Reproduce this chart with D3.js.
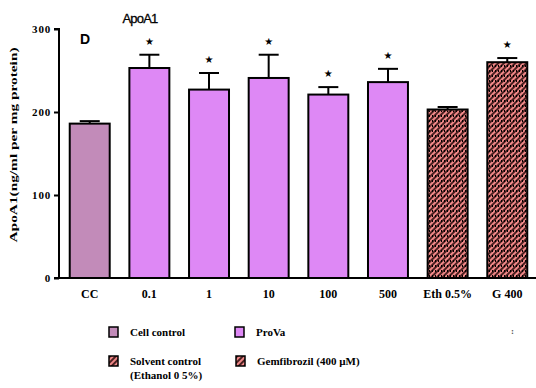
<!DOCTYPE html>
<html>
<head>
<meta charset="utf-8">
<script src="https://cdn.jsdelivr.net/npm/d3@7"></script>
<style>
  body { margin: 0; background: #fff; }
</style>
</head>
<body>
<div id="chart"></div>
<script>
var categories = ["CC", "0.1", "1", "10", "100", "500", "Eth 0.5%", "G 400"];
var values = [186, 253, 227, 241, 221, 236, 203, 260];
var errors = [3, 16, 20, 28, 9, 16, 3, 5];
var groups = ["cell", "prova", "prova", "prova", "prova", "prova", "solvent", "gem"];
var starred = [false, true, true, true, true, true, false, true];
var yTicks = [0, 100, 200, 300];

var width = 536, height = 388;
var margin = {top: 29, right: 0, bottom: 110, left: 59};

var svg = d3.select("#chart")
  .append("svg")
    .attr("width", width)
    .attr("height", height)
    .attr("font-family", "Liberation Serif")
    .attr("font-weight", "bold");

// hatch pattern for the controls
var defs = svg.append("defs");
var pat = defs.append("pattern")
    .attr("id", "hatch")
    .attr("patternUnits", "userSpaceOnUse")
    .attr("width", 4)
    .attr("height", 4)
    .attr("patternTransform", "rotate(45)");
pat.append("rect").attr("width", 4).attr("height", 4).attr("fill", "#f08888");
pat.append("rect").attr("width", 2).attr("height", 4).attr("fill", "#4a2020");

var pat2 = defs.append("pattern")
    .attr("id", "dots")
    .attr("patternUnits", "userSpaceOnUse")
    .attr("width", 3)
    .attr("height", 5);
pat2.append("rect").attr("width", 1).attr("height", 2).attr("fill", "#000");

var fills = {cell: "#c28bb9", prova: "#de88f5", solvent: "url(#hatch)", gem: "url(#hatch)"};

var x = d3.scaleBand()
    .domain(categories)
    .range([margin.left, 538])
    .paddingInner(0.33)
    .paddingOuter(0.18);

var y = d3.scaleLinear()
    .domain([0, 300])
    .range([278, margin.top]);

// error bars (drawn first, bars cover lower half)
var eb = svg.append("g");
categories.forEach(function(c, i) {
  var cx = x(c) + x.bandwidth() / 2;
  eb.append("line")
    .attr("x1", cx).attr("x2", cx)
    .attr("y1", y(values[i])).attr("y2", y(values[i] + errors[i]))
    .attr("stroke", "#000").attr("stroke-width", 2);
  eb.append("line")
    .attr("x1", cx - 10).attr("x2", cx + 10)
    .attr("y1", y(values[i] + errors[i])).attr("y2", y(values[i] + errors[i]))
    .attr("stroke", "#000").attr("stroke-width", 2);
});

svg.append("g").selectAll("rect")
  .data(categories)
  .enter().append("rect")
    .attr("x", function(d) { return x(d); })
    .attr("width", x.bandwidth())
    .attr("y", function(d, i) { return y(values[i]); })
    .attr("height", function(d, i) { return y(0) - y(values[i]); })
    .attr("fill", function(d, i) { return fills[groups[i]]; })
    .attr("stroke", "#000")
    .attr("stroke-width", 2);

// dotted overlay on hatched bars
svg.append("g").selectAll("rect")
  .data(categories.filter(function(d, i) { return groups[i] == "solvent" || groups[i] == "gem"; }))
  .enter().append("rect")
    .attr("x", function(d) { return x(d) + 1; })
    .attr("width", x.bandwidth() - 2)
    .attr("y", function(d) { return y(values[categories.indexOf(d)]) + 1; })
    .attr("height", function(d) { return y(0) - y(values[categories.indexOf(d)]) - 2; })
    .attr("fill", "url(#dots)");

// significance stars
svg.append("g").selectAll("text")
  .data(categories.filter(function(d, i) { return starred[i]; }))
  .enter().append("text")
    .attr("x", function(d) { return x(d) + x.bandwidth() / 2; })
    .attr("y", function(d) { var i = categories.indexOf(d); return y(values[i] + errors[i]) - 10; })
    .attr("text-anchor", "middle")
    .attr("font-family", "DejaVu Sans")
    .attr("font-size", 10)
    .text("\u2605");

// axes
var yAxis = svg.append("g")
    .attr("transform", "translate(" + margin.left + ",0)")
    .call(d3.axisLeft(y).tickValues(yTicks).tickSize(5));
yAxis.select(".domain").attr("stroke-width", 2).attr("d", "M-5," + y(300) + "H0V" + y(0) + "H-5");
yAxis.selectAll(".tick line").attr("stroke-width", 2);
yAxis.selectAll(".tick text").attr("font-size", 11).attr("x", -8)
  .attr("font-family", "Liberation Serif").attr("font-weight", "bold").attr("letter-spacing", 0.8);

var xAxis = svg.append("g")
    .attr("transform", "translate(0," + y(0) + ")")
    .call(d3.axisBottom(x).tickSize(0));
xAxis.select(".domain").attr("stroke-width", 2).attr("d", "M" + margin.left + ",0H536");
xAxis.selectAll(".tick text").attr("font-size", 12).attr("dy", 0).attr("y", 20)
  .attr("font-family", "Liberation Serif").attr("font-weight", "bold");

// y label
svg.append("text")
    .attr("transform", "translate(17,145) rotate(-90)")
    .attr("text-anchor", "middle")
    .attr("font-size", 11)
    .attr("textLength", 195)
    .attr("lengthAdjust", "spacingAndGlyphs")
    .text("ApoA1(ng/ml per mg protein)");

// title and panel letter
svg.append("text")
    .attr("x", 140).attr("y", 23)
    .attr("text-anchor", "middle")
    .attr("font-family", "Liberation Sans")
    .attr("font-weight", "normal")
    .attr("font-size", 13)
    .attr("letter-spacing", -0.8)
    .attr("stroke", "#000").attr("stroke-width", 0.3)
    .text("ApoA1");
svg.append("text")
    .attr("x", 80).attr("y", 44)
    .attr("font-family", "Liberation Sans")
    .attr("font-size", 14)
    .text("D");

// legend
var legend = [
  {label: ["Cell control"], fill: fills.cell, x: 109, y: 327},
  {label: ["ProVa"], fill: fills.prova, x: 235, y: 327},
  {label: ["Solvent control", "(Ethanol 0 5%)"], fill: fills.solvent, x: 109, y: 356},
  {label: ["Gemfibrozil (400 \u00b5M)"], fill: fills.gem, x: 236, y: 356}
];
var lg = svg.append("g").selectAll("g").data(legend).enter().append("g")
    .attr("transform", function(d) { return "translate(" + d.x + "," + d.y + ")"; });
lg.append("rect")
    .attr("width", 9).attr("height", 10)
    .attr("fill", function(d) { return d.fill; })
    .attr("stroke", "#000").attr("stroke-width", 1.5);
lg.each(function(d) {
  var g = d3.select(this);
  d.label.forEach(function(t, k) {
    g.append("text")
      .attr("x", 21).attr("y", 9 + k * 14)
      .attr("font-size", 11)
      .text(t);
  });
});

svg.append("text").attr("x", 511).attr("y", 334).attr("font-size", 9).attr("fill", "#555").text(":");
</script>
</body>
</html>
